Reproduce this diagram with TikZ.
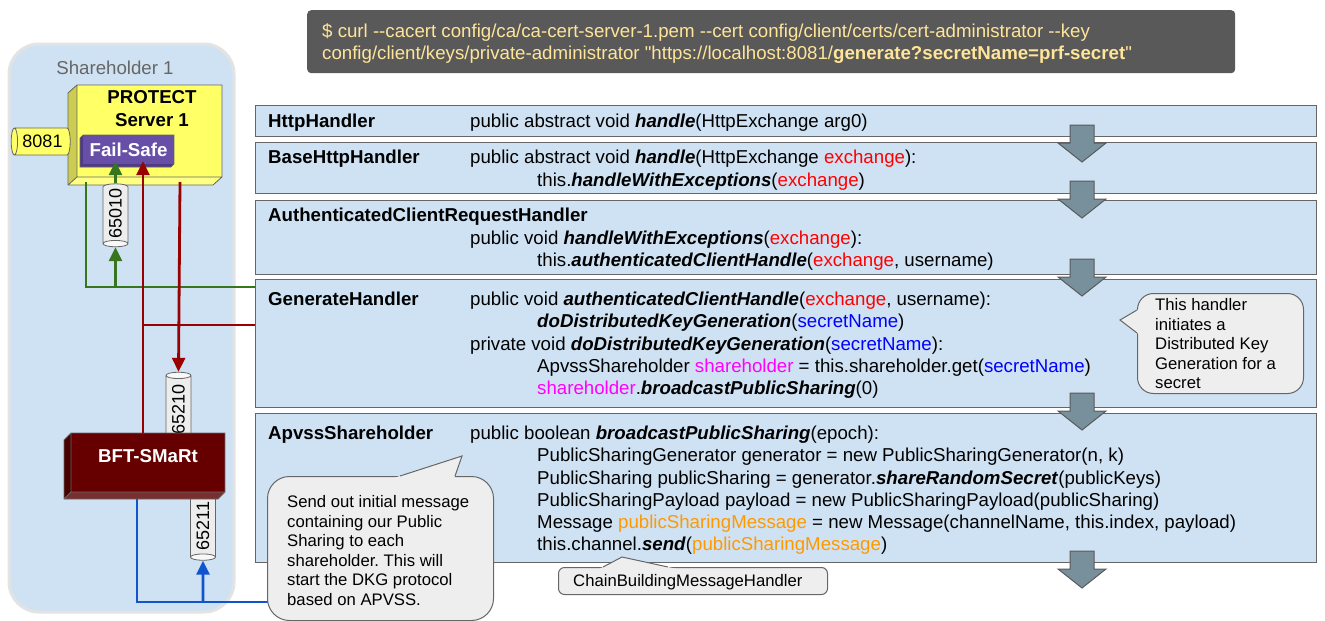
\documentclass[tikz,border=0pt]{standalone}
\usepackage{fontspec}
\setmainfont{Liberation Sans}[Ligatures=TeXOff]
\usetikzlibrary{shapes.geometric,arrows.meta}
\frenchspacing

\definecolor{paneFill}{HTML}{CFE2F3}
\definecolor{paneLine}{HTML}{666666}
\definecolor{contLine}{HTML}{E3E3E3}
\definecolor{labelGray}{HTML}{666666}
\definecolor{cmdFill}{HTML}{595959}
\definecolor{cmdText}{HTML}{FFE599}
\definecolor{srvFront}{HTML}{FFFF66}
\definecolor{srvSide}{HTML}{CCCC52}
\definecolor{srvBottom}{HTML}{FFFF85}
\definecolor{fsFront}{HTML}{674EA7}
\definecolor{fsSide}{HTML}{4F3B85}
\definecolor{bftFront}{HTML}{660000}
\definecolor{bftSide}{HTML}{4A0000}
\definecolor{bftBottom}{HTML}{7A2E2E}
\definecolor{portFill}{HTML}{EDEDED}
\definecolor{portEnd}{HTML}{F8F8F8}
\definecolor{linkGreen}{HTML}{38761D}
\definecolor{linkRed}{HTML}{990000}
\definecolor{linkBlue}{HTML}{1155CC}
\definecolor{flowFill}{HTML}{78909C}
\definecolor{flowLine}{HTML}{595959}
\definecolor{noteFill}{HTML}{EEEEEE}
\definecolor{codeRed}{HTML}{FF0000}
\definecolor{codeBlue}{HTML}{0000FF}
\definecolor{codeMagenta}{HTML}{FF00FF}
\definecolor{codeOrange}{HTML}{FF9900}

% method names and highlighted identifiers
\newcommand\kw[1]{\textbf{\textit{#1}}}
\newcommand\vRed[1]{\textcolor{codeRed}{#1}}
\newcommand\vBlue[1]{\textcolor{codeBlue}{#1}}
\newcommand\vMag[1]{\textcolor{codeMagenta}{#1}}
\newcommand\vOra[1]{\textcolor{codeOrange}{#1}}

\begin{document}
\begin{tikzpicture}[x=1pt,y=-1pt,
  panel/.style={draw=paneLine, line width=1pt, fill=paneFill, anchor=north west,
    minimum width=1061pt, inner sep=0pt},
  code/.style={anchor=base west, inner sep=0pt, font=\fontsize{18.67}{22}\selectfont},
  cls/.style={code, font=\fontsize{18.67}{22}\selectfont\bfseries},
  cmdtext/.style={code, text=cmdText},
  notebox/.style={draw=paneLine, line width=1pt, fill=noteFill, anchor=north west, inner sep=0pt},
  notetext/.style={anchor=base west, inner sep=0pt, font=\fontsize{16.7}{19.5}\selectfont},
  port/.style={shape=cylinder, draw=paneLine, line width=0.8pt, cylinder uses custom fill,
    cylinder body fill=portFill, cylinder end fill=portEnd, aspect=0.5, inner sep=0pt,
    minimum width=25pt, minimum height=63pt, font=\fontsize{18}{20}\selectfont},
  link/.style={line width=2.8pt},
  tip/.style={-{Triangle[length=14pt,width=13pt]}},
  edge3d/.style={draw=paneLine, line width=0.8pt},
  flowarrow/.pic={
    \draw[fill=flowFill, draw=flowLine, line width=1pt]
      (-12,0) -- (12,0) -- (12,18) -- (24,18) -- (0,37) -- (-24,18) -- (-12,18) -- cycle;
  }
]
\useasboundingbox (0,0) rectangle (1325,621);

% ---------- Shareholder container ----------
\draw[draw=contLine, line width=3pt, fill=paneFill, rounded corners=30pt] (9,44) rectangle (234,612);
\node[anchor=base, inner sep=0pt, text=labelGray, font=\fontsize{18.67}{22}\selectfont]
  (shlabel) at (115,74) {Shareholder 1};

% ---------- curl command ----------
\node[fill=cmdFill, rounded corners=4pt, anchor=north west, minimum width=928pt,
  minimum height=63pt, inner sep=0pt] (cmd) at (307,10) {};
\node[cmdtext] (cmd1) at (322,37)
  {\$ curl --cacert config/ca/ca-cert-server-1.pem --cert config/client/certs/cert-administrator --key};
\node[cmdtext] (cmd2) at (322,59)
  {config/client/keys/private-administrator "https://localhost:8081/\textbf{generate?secretName=prf-secret}"};

% ---------- handler chain panels ----------
\node[panel, minimum height=31pt]  (hh)   at (255,105) {};
\node[panel, minimum height=51pt]  (base) at (255,142) {};
\node[panel, minimum height=74pt]  (auth) at (255,200) {};
\node[panel, minimum height=128pt] (gen)  at (255,279) {};
\node[panel, minimum height=149pt] (apv)  at (255,413) {};

\node[cls]  (hh0) at (268,127) {HttpHandler};
\node[code] (hh1) at (470,127) {public abstract void \kw{handle}(HttpExchange arg0)};

\node[cls]  (ba0) at (268,163) {BaseHttpHandler};
\node[code] (ba1) at (470,163) {public abstract void \kw{handle}(HttpExchange \vRed{exchange}):};
\node[code] (ba2) at (537,186) {this.\kw{handleWithExceptions}(\vRed{exchange})};

\node[cls]  (au0) at (268,221) {AuthenticatedClientRequestHandler};
\node[code] (au1) at (470,244) {public void \kw{handleWithExceptions}(\vRed{exchange}):};
\node[code] (au2) at (537,266) {this.\kw{authenticatedClientHandle}(\vRed{exchange}, username)};

\node[cls]  (ge0) at (268,305) {GenerateHandler};
\node[code] (ge1) at (470,305) {public void \kw{authenticatedClientHandle}(\vRed{exchange}, username):};
\node[code] (ge2) at (537,327) {\kw{doDistributedKeyGeneration}(\vBlue{secretName})};
\node[code] (ge3) at (470,350) {private void \kw{doDistributedKeyGeneration}(\vBlue{secretName}):};
\node[code] (ge4) at (537,372) {ApvssShareholder \vMag{shareholder} = this.shareholder.get(\vBlue{secretName})};
\node[code] (ge5) at (537,394) {\vMag{shareholder}.\kw{broadcastPublicSharing}(0)};

\node[cls]  (ap0) at (268,439) {ApvssShareholder};
\node[code] (ap1) at (470,439) {public boolean \kw{broadcastPublicSharing}(epoch):};
\node[code] (ap2) at (537,461) {PublicSharingGenerator generator = new PublicSharingGenerator(n, k)};
\node[code] (ap3) at (537,484) {PublicSharing publicSharing = generator.\kw{shareRandomSecret}(publicKeys)};
\node[code] (ap4) at (537,506) {PublicSharingPayload payload = new PublicSharingPayload(publicSharing)};
\node[code] (ap5) at (537,528) {Message \vOra{publicSharingMessage} = new Message(channelName, this.index, payload)};
\node[code] (ap6) at (537,550) {this.channel.\kw{send}(\vOra{publicSharingMessage})};

% flow arrows between the panels
\pic at (1082,125) {flowarrow};
\pic at (1082,181) {flowarrow};
\pic at (1082,259) {flowarrow};
\pic at (1082,393) {flowarrow};
\pic at (1082,551) {flowarrow};

% ---------- PROTECT server box ----------
\fill[srvSide] (77,85) -- (68,93) -- (68,185) -- (77,177) -- cycle;
\fill[srvBottom] (77,177) -- (68,185) -- (213,185) -- (222,177) -- cycle;
\node[fill=srvFront, minimum width=145pt, minimum height=92pt, inner sep=0pt] (srv) at (149.5,131) {};
\draw[edge3d] (77,85) -- (222,85) -- (222,177) -- (213,185) -- (68,185) -- (68,93) -- cycle
  (68,185) -- (77,177) -- (222,177) (77,177) -- (77,85);
\node[anchor=base, inner sep=0pt, font=\fontsize{18.67}{22}\selectfont\bfseries] (srvt1) at (152,103) {PROTECT};
\node[anchor=base, inner sep=0pt, font=\fontsize{18.67}{22}\selectfont\bfseries] (srvt2) at (152,126) {Server 1};

% Fail-Safe block
\fill[fsSide] (83,135) -- (80,138) -- (80,167) -- (171,167) -- (174,164) -- (83,164) -- cycle;
\node[fill=fsFront, minimum width=91pt, minimum height=29pt, inner sep=0pt, text=white,
  font=\fontsize{18.67}{22}\selectfont\bfseries] (fs) at (128.5,149.5) {Fail-Safe};
\draw[draw=paneLine, line width=0.6pt] (80,138) -- (80,167) -- (171,167) -- (174,164) -- (174,135) -- (83,135) -- cycle;

% port 8081
\node[port, shape border rotate=180, cylinder body fill=srvFront, cylinder end fill=srvFront,
  minimum width=27pt, minimum height=59pt] (p8081) at (42.5,141.5) {8081};

% ---------- ports and BFT-SMaRt ----------
\node[port, rotate=90, minimum height=70pt] (p65210) at (178.5,409) {65210};
\node[port, rotate=90, shape border rotate=180, minimum height=65pt] (p65211) at (203,526) {65211};
\node[port, rotate=90, shape border rotate=180] (p65010) at (115.5,213.5) {65010};

% blue links leave from the bottom of BFT-SMaRt
\coordinate (bCorner) at (137,602);
\coordinate (bJoin) at (203,602);
\coordinate (bEnd) at (285,602);
\draw[link, linkBlue] (137,492) -- (bCorner) -- (bEnd);
\draw[link, linkBlue, tip] (bJoin) -- (p65211.west);

\fill[bftSide] (71,433) -- (64,440) -- (64,499) -- (71,492) -- cycle;
\fill[bftBottom] (71,492) -- (64,499) -- (218,499) -- (225,492) -- cycle;
\node[fill=bftFront, minimum width=154pt, minimum height=59pt, inner sep=0pt] (bft) at (148,462.5) {};
\draw[edge3d] (71,433) -- (225,433) -- (225,492) -- (218,499) -- (64,499) -- (64,440) -- cycle
  (64,499) -- (71,492) -- (225,492) (71,492) -- (71,433);
\node[anchor=base, inner sep=0pt, text=white, font=\fontsize{18.67}{22}\selectfont\bfseries]
  (bftlabel) at (148,462) {BFT-SMaRt};

% ---------- green links ----------
\coordinate (gTop) at (86,182);
\coordinate (gCorner) at (86,287);
\coordinate (gJoin) at (115.5,287);
\draw[link, linkGreen] (gTop) -- (gCorner) -- (gCorner -| gen.west);
\draw[link, linkGreen, tip] (gJoin) -- (p65010.west);
\draw[link, linkGreen, tip, shorten >=-3pt] (p65010.east) -- (p65010.east |- fs.south);

% ---------- red links ----------
\coordinate (rJoin) at (143,325);
\coordinate (rDown) at (180,182);
\draw[link, linkRed, tip, shorten >=-3pt] (rJoin |- bft.north) -- (rJoin |- fs.south);
\draw[link, linkRed] (rJoin) -- (rJoin -| gen.west);
\draw[link, linkRed, tip] (rDown) -- (p65210.east);

% ---------- callouts ----------
% handler note
\node[notebox, rounded corners=16pt, minimum width=166pt, minimum height=100pt] (note1) at (1137,293) {};
\fill[noteFill] (1139,309) -- (1120,320) -- (1139,334.3) -- cycle;
\draw[draw=paneLine, line width=1pt] (1137,310) -- (1120,320) -- (1137,333);
\foreach \t [count=\i] in {This handler, initiates a, Distributed Key, Generation for a, secret}
  \node[notetext] (note1-\i) at (1155,{310.5+19.5*(\i-1)}) {\t};

% broadcast note
\node[notebox, rounded corners=22pt, minimum width=226pt, minimum height=144pt] (note2) at (267,476) {};
\fill[noteFill] (393.8,478) -- (462,456) -- (454.3,478) -- cycle;
\draw[draw=paneLine, line width=1pt] (400,476) -- (462,456) -- (455,476);
\foreach \t [count=\i] in {Send out initial message, containing our Public, Sharing to each,
    shareholder. This will, start the DKG protocol, based on APVSS.}
  \node[notetext] (note2-\i) at (287,{507.5+19.6*(\i-1)}) {\t};

% message handler note
\node[notebox, rounded corners=6pt, minimum width=269pt, minimum height=27pt] (note3) at (558,567) {};
\fill[noteFill] (599.2,569) -- (622,557) -- (677.2,569) -- cycle;
\draw[draw=paneLine, line width=1pt] (603,567) -- (622,557) -- (668,567);
\node[notetext] (note3-1) at (573,586.5) {ChainBuildingMessageHandler};

\end{tikzpicture}
\end{document}
